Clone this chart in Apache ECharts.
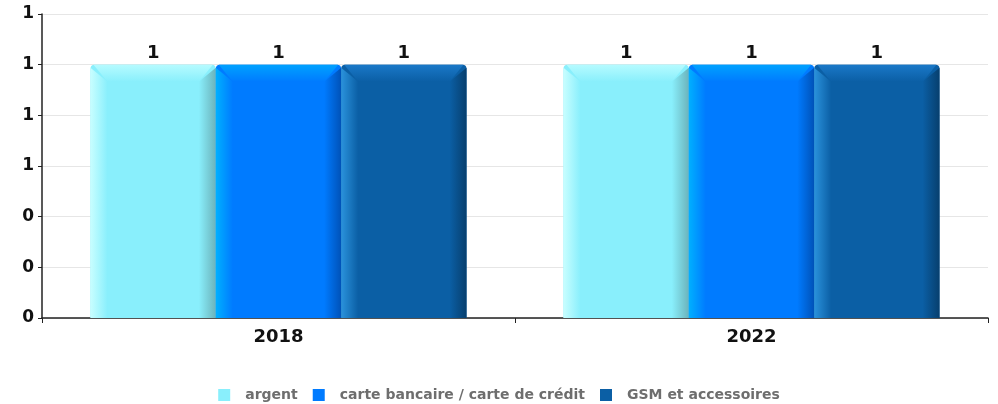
<!DOCTYPE html>
<html><head><meta charset="utf-8">
<script src="https://cdn.jsdelivr.net/npm/echarts@6/dist/echarts.min.js"></script>
<style>html,body{margin:0;padding:0;background:#fff}#c{width:998px;height:404px}</style>
</head><body><div id="c"></div>
<script>
const categories = ['2018', '2022'];
const seriesNames = ['argent', 'carte bancaire / carte de crédit', 'GSM et accessoires'];
const argent = [1, 1];
const carte = [1, 1];
const gsm = [1, 1];
const yTicks = { min: 0, max: 1.2, interval: 0.2 };

// [top bevel, left light, main, right dark]
const palettes = [
  ['#b6fbff', '#c8feff', '#89effc', '#6bb3bb'],
  ['#00a2ff', '#00b0ff', '#007bff', '#0052b8'],
  ['#1a78c8', '#2a92dc', '#0b5fa5', '#073f6e']
];
const datas = [argent, carte, gsm];
const groupFrac = 0.795;
const bevel = 17;

function makeRender(si) {
  const p = palettes[si];
  return function (params, api) {
    const ci = api.value(0);
    const v = api.value(1);
    const topPt = api.coord([ci, v]);
    const basePt = api.coord([ci, 0]);
    const band = api.size([1, 0])[0];
    const bw = band * groupFrac / 3;
    const L = topPt[0] - 1.5 * bw + si * bw;
    const R = L + bw;
    const T = topPt[1];
    const B = basePt[1];
    const b = Math.min(bevel, bw / 4, (B - T) / 2);
    const G = echarts.graphic.LinearGradient;
    return {
      type: 'group',
      children: [
        { type: 'rect', shape: { x: L, y: T, width: bw, height: B - T, r: [4, 4, 0, 0] }, style: { fill: p[2] } },
        { type: 'polygon', shape: { points: [[L, T + 3], [L + b, T + b], [L + b, B], [L, B]] },
          style: { fill: new G(0, 0, 1, 0, [{ offset: 0, color: p[1] }, { offset: 1, color: p[2] }]) } },
        { type: 'polygon', shape: { points: [[R, T + 3], [R, B], [R - b, B], [R - b, T + b]] },
          style: { fill: new G(0, 0, 1, 0, [{ offset: 0, color: p[2] }, { offset: 1, color: p[3] }]) } },
        { type: 'polygon', shape: { points: [[L + 3, T], [R - 3, T], [R - b, T + b], [L + b, T + b]] },
          style: { fill: new G(0, 0, 0, 1, [{ offset: 0, color: p[0] }, { offset: 1, color: p[2] }]) } },
        { type: 'text', style: { text: String(v), x: (L + R) / 2, y: T - 2, align: 'center', verticalAlign: 'bottom',
            font: 'bold 18px "DejaVu Sans"', fill: '#111' } }
      ]
    };
  };
}

const chart = echarts.init(document.getElementById('c'));
chart.setOption({
  animation: false,
  grid: { left: 42, right: 10, top: 14, bottom: 86 },
  legend: {
    top: 383, left: 'center', itemWidth: 12, itemHeight: 12, itemGap: 15, icon: 'rect',
    data: seriesNames,
    textStyle: { color: '#6e6e6e', fontWeight: 'bold', fontSize: 14, fontFamily: 'DejaVu Sans', padding: [0, 0, 0, 10] }
  },
  xAxis: {
    type: 'category', data: categories,
    axisLine: { lineStyle: { color: '#222', width: 1.5 } },
    axisTick: { show: true, length: 5, lineStyle: { color: '#222' } },
    axisLabel: { color: '#111', fontWeight: 'bold', fontSize: 18, fontFamily: 'DejaVu Sans', margin: 10 }
  },
  yAxis: {
    type: 'value', min: yTicks.min, max: yTicks.max, interval: yTicks.interval,
    axisLine: { show: true, lineStyle: { color: '#222', width: 1.5 } },
    axisTick: { show: true, length: 4, lineStyle: { color: '#222' } },
    splitLine: { lineStyle: { color: '#e6e6e6' } },
    axisLabel: { color: '#111', fontWeight: 'bold', fontSize: 17, fontFamily: 'DejaVu Sans', margin: 8,
      formatter: v => String(Math.round(v)) }
  },
  series: seriesNames.map((n, i) => ({
    name: n, type: 'custom',
    itemStyle: { color: palettes[i][2] },
    encode: { x: 0, y: 1 },
    data: datas[i].map((v, k) => [k, v]),
    renderItem: makeRender(i)
  }))
});
</script></body></html>
